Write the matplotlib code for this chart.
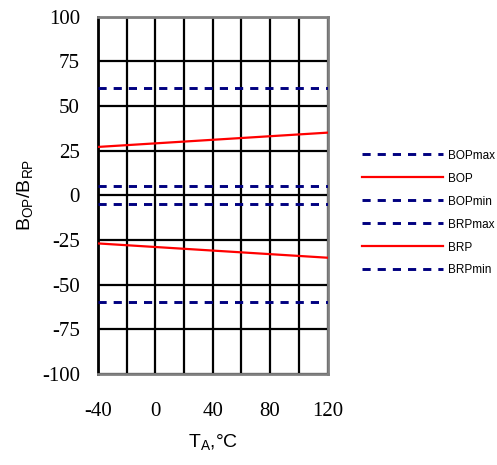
import numpy as np
import matplotlib
matplotlib.use("Agg")
import matplotlib.pyplot as plt

plt.rcParams['mathtext.fontset'] = 'custom'
plt.rcParams['mathtext.rm'] = 'Liberation Sans'
plt.rcParams['mathtext.it'] = 'Liberation Sans'
plt.rcParams['axes.unicode_minus'] = False

# data
temp = [-40, 120]
bop = [27, 35]
brp = [-27, -35]
bop_max = [60, 60]
bop_min = [5, 5]
brp_max = [-5, -5]
brp_min = [-60, -60]

x_ticks = [-40, 0, 40, 80, 120]
y_ticks = [100, 75, 50, 25, 0, -25, -50, -75, -100]

fig = plt.figure(figsize=(4.97, 4.65), dpi=100)
ax = fig.add_axes([0.197, 0.196, 0.462, 0.7685])

navy = "#000080"
dash = (0, (2.8, 2.4))
ax.plot(temp, bop_max, color=navy, lw=2.1, ls=dash, label="BOPmax", zorder=3)
ax.plot(temp, bop, color="red", lw=1.6, label="BOP", zorder=3)
ax.plot(temp, bop_min, color=navy, lw=2.1, ls=dash, label="BOPmin", zorder=3)
ax.plot(temp, brp_max, color=navy, lw=2.1, ls=dash, label="BRPmax", zorder=3)
ax.plot(temp, brp, color="red", lw=1.6, label="BRP", zorder=3)
ax.plot(temp, brp_min, color=navy, lw=2.1, ls=dash, label="BRPmin", zorder=3)

ax.set_xlim(-40, 120)
ax.set_ylim(-100, 100)
ax.set_xticks(x_ticks)
ax.set_xticks(np.arange(-40, 121, 20), minor=True)
ax.set_yticks(y_ticks)
ax.grid(True, which="both", color="black", lw=1.6, zorder=1)
ax.set_axisbelow(True)

for lab in ax.get_xticklabels() + ax.get_yticklabels():
    lab.set_family("Liberation Serif")
    lab.set_fontsize(15)
ax.tick_params(axis="both", which="both", direction="in", length=0)
ax.tick_params(axis="x", pad=20)
ax.tick_params(axis="y", pad=13)

for side in ["top", "right", "bottom"]:
    ax.spines[side].set_color("#808080")
    ax.spines[side].set_linewidth(2)
ax.spines["left"].set_color("black")
ax.spines["left"].set_linewidth(2)

ax.set_xlabel(r"$\mathrm{T_A}$,°C", family="Liberation Sans", fontsize=14, labelpad=8)
ax.set_ylabel(r"$\mathrm{B_{OP}/B_{RP}}$", family="Liberation Sans", fontsize=14, labelpad=5)

leg = fig.legend(loc="upper left", bbox_to_anchor=(0.717, 0.691), frameon=False,
                 prop={"family": "Liberation Sans", "size": 8.5},
                 handlelength=6.8, handletextpad=0.45, labelspacing=0.93, borderpad=0)

fig.savefig("out.png", dpi=100)
